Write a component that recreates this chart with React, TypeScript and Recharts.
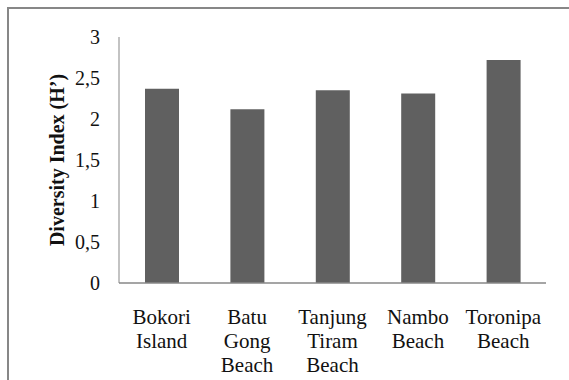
import { BarChart, Bar, XAxis, YAxis } from 'recharts'

// Shannon-Wiener diversity per sampling site
const sites = ['Bokori Island', 'Batu Gong Beach', 'Tanjung Tiram Beach', 'Nambo Beach', 'Toronipa Beach']
const diversity = [2.37, 2.12, 2.35, 2.31, 2.72]
const yTicks = [0, 0.5, 1, 1.5, 2, 2.5, 3]

const data = sites.map((site, i) => ({ site, value: diversity[i] }))

const FONT = "'Times New Roman', 'Liberation Serif', serif"
const AXIS_GRAY = '#878787'

// one word per line under each bar
function SiteTick({ x, y, payload }: any) {
  const words = String(payload.value).split(' ')
  return (
    <text x={x} y={y + 33} textAnchor="middle" fontFamily={FONT} fontSize={21} fill="#111">
      {words.map((w, i) => (
        <tspan key={w + i} x={x} dy={i === 0 ? 0 : 24}>
          {w}
        </tspan>
      ))}
    </text>
  )
}

function AxisTitle({ viewBox }: any) {
  const cx = viewBox.x + 47.5
  const cy = viewBox.y + viewBox.height / 2
  return (
    <text
      x={cx}
      y={cy}
      transform={`rotate(-90 ${cx} ${cy})`}
      textAnchor="middle"
      dominantBaseline="central"
      fontFamily={FONT}
      fontWeight="bold"
      fontSize={20}
      fill="#111"
    >
      Diversity Index (H’)
    </text>
  )
}

export default function App() {
  return (
    <>
      {/* frame edges: only top and left fall inside the page */}
      <div style={{ position: 'absolute', left: 7, top: 7, width: 562, height: 1.5, background: AXIS_GRAY }} />
      <div style={{ position: 'absolute', left: 7, top: 7, width: 1.5, height: 373, background: AXIS_GRAY }} />
      <div style={{ position: 'absolute', left: 8.5, top: 8.5 }}>
        <BarChart
          width={560}
          height={370}
          data={data}
          margin={{ top: 28, right: 23, bottom: 0, left: 0 }}
        >
          <XAxis
            dataKey="site"
            height={96}
            interval={0}
            tick={<SiteTick />}
            tickLine={false}
            axisLine={{ stroke: AXIS_GRAY, strokeWidth: 1.5 }}
          />
          <YAxis
            width={110}
            domain={[0, 3]}
            ticks={yTicks}
            tickFormatter={(v: number) => String(v).replace('.', ',')}
            tick={{ fontFamily: FONT, fontSize: 20, fill: '#111' }}
            tickLine={false}
            tickSize={0}
            tickMargin={19}
            axisLine={{ stroke: AXIS_GRAY, strokeWidth: 1 }}
            label={{ content: <AxisTitle /> }}
          />
          <Bar dataKey="value" fill="#606060" barSize={34} isAnimationActive={false} />
        </BarChart>
      </div>
    </>
  )
}
